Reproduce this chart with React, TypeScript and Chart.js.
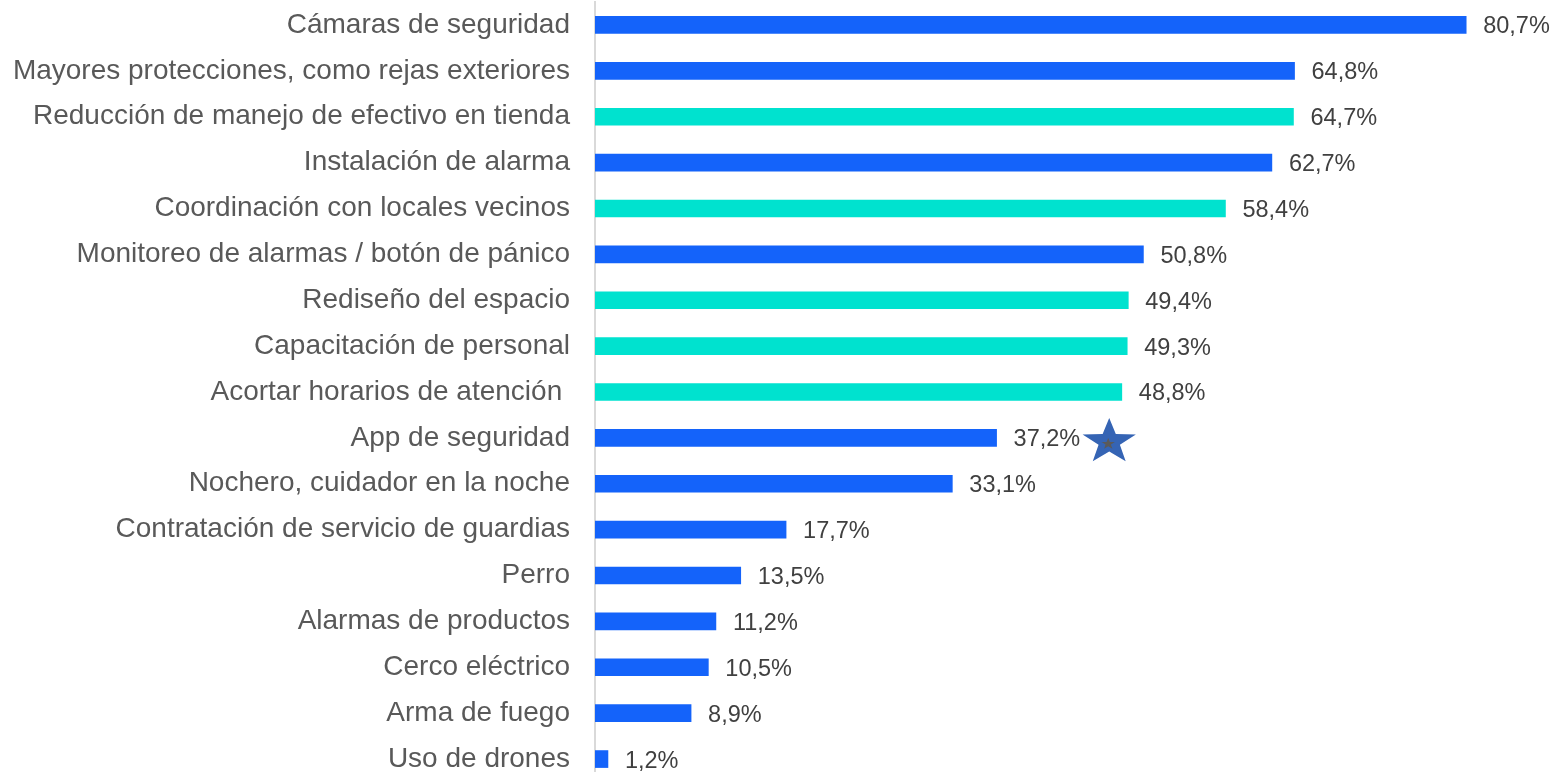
import React, { useEffect, useRef } from "react";
import { Chart, registerables } from "chart.js";

Chart.register(...registerables);

const categories: string[] = [
  "Cámaras de seguridad",
  "Mayores protecciones, como rejas exteriores",
  "Reducción de manejo de efectivo en tienda",
  "Instalación de alarma",
  "Coordinación con locales vecinos",
  "Monitoreo de alarmas / botón de pánico",
  "Rediseño del espacio",
  "Capacitación de personal",
  "Acortar horarios de atención ",
  "App de seguridad",
  "Nochero, cuidador en la noche",
  "Contratación de servicio de guardias",
  "Perro",
  "Alarmas de productos",
  "Cerco eléctrico",
  "Arma de fuego",
  "Uso de drones",
];

const values: number[] = [80.7, 64.8, 64.7, 62.7, 58.4, 50.8, 49.4, 49.3, 48.8, 37.2, 33.1, 17.7, 13.5, 11.2, 10.5, 8.9, 1.2];

// "t" = teal (highlighted), "b" = blue
const colorGroups: string[] = ["b", "b", "t", "b", "t", "b", "t", "t", "t", "b", "b", "b", "b", "b", "b", "b", "b"];

const starredCategory = "App de seguridad";

const BLUE = "#1463FA";
const TEAL = "#00E2CF";
const FONT = "'Liberation Sans', Arial, sans-serif";

function drawStar(ctx: CanvasRenderingContext2D, cx: number, cy: number, rx: number, ry: number, color: string) {
  const inner = 0.4;
  ctx.beginPath();
  for (let i = 0; i < 10; i++) {
    const r = i % 2 === 0 ? 1 : inner;
    const a = -Math.PI / 2 + (i * Math.PI) / 5;
    const x = cx + Math.cos(a) * rx * r;
    const y = cy + Math.sin(a) * ry * r;
    if (i === 0) ctx.moveTo(x, y);
    else ctx.lineTo(x, y);
  }
  ctx.closePath();
  ctx.fillStyle = color;
  ctx.fill();
}

const valueLabelPlugin = {
  id: "valueLabels",
  afterDatasetsDraw(chart: any) {
    const ctx: CanvasRenderingContext2D = chart.ctx;
    const meta = chart.getDatasetMeta(0);
    ctx.save();
    ctx.font = `23.5px ${FONT}`;
    ctx.textBaseline = "middle";
    ctx.textAlign = "left";
    meta.data.forEach((bar: any, i: number) => {
      const txt = values[i].toFixed(1).replace(".", ",") + "%";
      const tx = bar.x + 17;
      ctx.fillStyle = "#404040";
      ctx.fillText(txt, tx, bar.y + 2);
      if (categories[i] === starredCategory) {
        const w = ctx.measureText(txt).width;
        const cx = tx + w + 29;
        const cy = bar.y + 4;
        drawStar(ctx, cx, cy, 28, 24, "#3564B4");
        drawStar(ctx, cx - 1, cy + 2, 7, 6, "#5a5a5a");
      }
    });
    ctx.restore();
  },
};

export default function App() {
  const canvasRef = useRef<HTMLCanvasElement | null>(null);

  useEffect(() => {
    if (!canvasRef.current) return;
    const chart = new Chart(canvasRef.current, {
      type: "bar",
      data: {
        labels: categories,
        datasets: [
          {
            data: values,
            backgroundColor: colorGroups.map((g) => (g === "t" ? TEAL : BLUE)),
            barThickness: 17,
            borderWidth: 0,
          },
        ],
      },
      options: {
        indexAxis: "y",
        animation: false,
        responsive: true,
        maintainAspectRatio: false,
        layout: { padding: { top: 2, bottom: 4, right: 9, left: 0 } },
        plugins: {
          legend: { display: false },
          tooltip: { enabled: false },
        },
        scales: {
          x: { display: false, min: 0, max: 88 },
          y: {
            afterFit: (scale: any) => {
              scale.width = 595;
              scale.paddingTop = 0;
              scale.paddingBottom = 0;
            },
            grid: { display: false },
            border: { display: true, color: "#d9d9d9", width: 2 },
            ticks: {
              padding: 17,
              color: "#595959",
              font: { family: FONT, size: 28 },
            },
          },
        },
      },
      plugins: [valueLabelPlugin],
    });
    return () => chart.destroy();
  }, []);

  return (
    <div style={{ position: "fixed", top: 0, left: 0, width: 1554, height: 772, overflow: "hidden", background: "#fff" }}>
      <div style={{ position: "relative", width: 1554, height: 786 }}>
        <canvas ref={canvasRef} />
      </div>
    </div>
  );
}
